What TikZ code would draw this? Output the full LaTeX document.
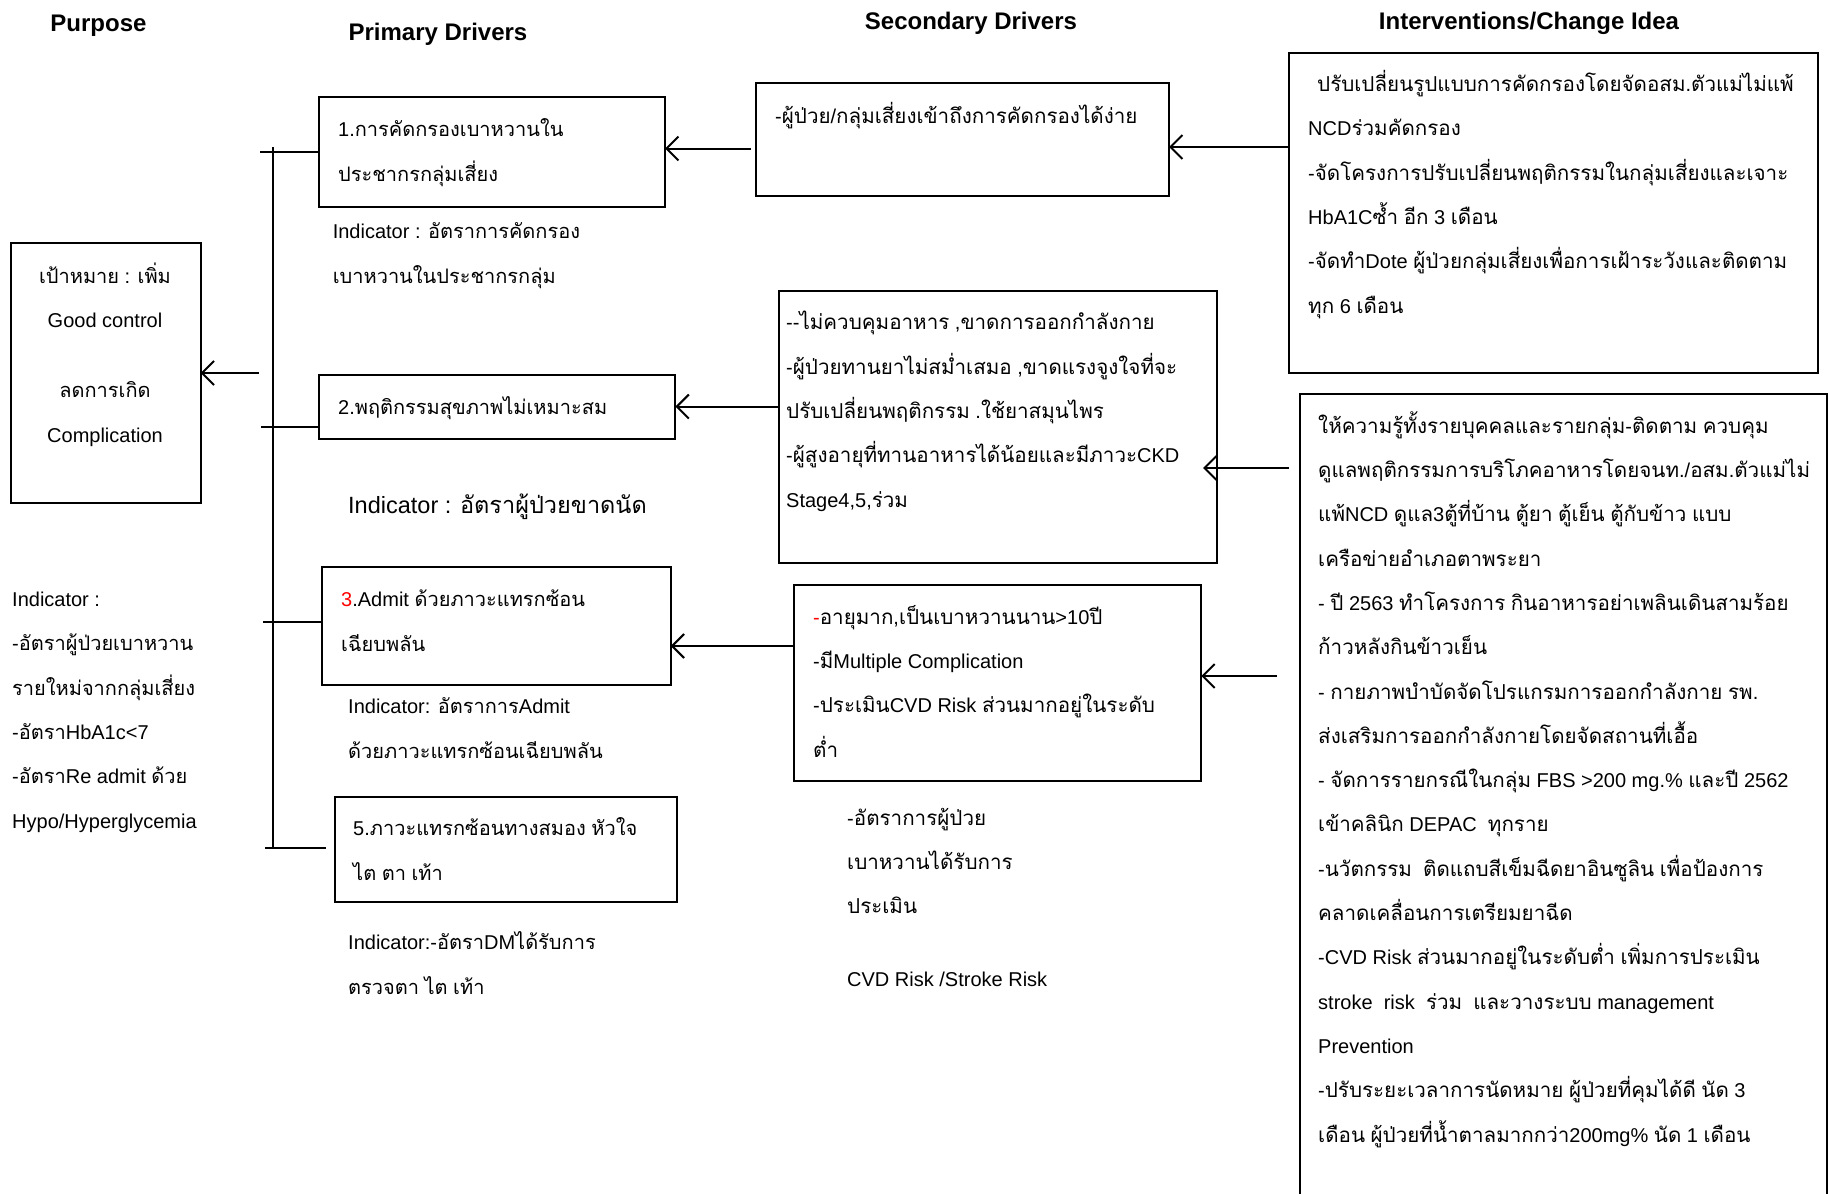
\documentclass[tikz,border=0pt]{standalone}
\usepackage{fontspec}
\usetikzlibrary{arrows.meta}
\setmainfont{Liberation Sans}
\newfontfamily\thaiA[Script=Thai,Scale=1.03]{Loma}
\newfontfamily\thaiB[Script=Thai,Scale=1.0]{Loma}
\newcommand\thaisw{\thaiA}
\newcommand\latsw{\normalfont}
\XeTeXinterchartokenstate=1
\newXeTeXintercharclass\thaicls
\newcount\tcnt
\tcnt="0E01
\loop
\XeTeXcharclass\tcnt=\thaicls
\advance\tcnt by 1
\ifnum\tcnt<"0E7F \repeat
\XeTeXinterchartoks 0 \thaicls={\thaisw}
\XeTeXinterchartoks 4095 \thaicls={\thaisw}
\XeTeXinterchartoks \thaicls 0={\latsw}
\XeTeXinterchartoks \thaicls 4095={\latsw}
\begin{document}
\begin{tikzpicture}[x=1pt,y=-1pt,
  box/.style={draw,line width=2pt,anchor=north west,inner sep=0,outer sep=0},
  ln/.style={line width=2pt},
  arr/.style={line width=2pt,-{Straight Barb[length=12pt,width=24pt]}},
  hdr/.style={anchor=base,inner sep=0,font=\fontsize{24}{29}\selectfont\bfseries},
  tA/.style={anchor=base west,inner sep=0,align=left,font=\fontsize{20}{44.3}\selectfont},
  tB/.style={anchor=base west,inner sep=0,align=left,font=\fontsize{20}{44.3}\selectfont\let\thaisw\thaiB},
  tC/.style={anchor=base,inner sep=0,align=center,font=\fontsize{20}{44.3}\selectfont\let\thaisw\thaiB}]
\useasboundingbox (0,0) rectangle (1829,1194);
\fill[white] (0,0) rectangle (1829,1194);
% headers
\node[hdr] (hP) at (98.5,31) {Purpose};
\node[hdr] (hPD) at (438,40) {Primary Drivers};
\node[hdr] (hSD) at (971,29) {Secondary Drivers};
\node[hdr] (hI) at (1529,29) {Interventions/Change Idea};
% boxes
\node[box,minimum width=190.1pt,minimum height=260.2pt] (P) at (10.5,242.6) {};
\node[box,minimum width=346.5pt,minimum height=109.8pt] (b1) at (318.5,96.8) {};
\node[box,minimum width=356.9pt,minimum height=64.1pt] (b2) at (318.5,374.5) {};
\node[box,minimum width=348.7pt,minimum height=117.8pt] (b3) at (322,567) {};
\node[box,minimum width=342.5pt,minimum height=105.2pt] (b5) at (334.5,796.5) {};
\node[box,minimum width=413.5pt,minimum height=112.7pt] (sA) at (755.5,82.8) {};
\node[box,minimum width=438pt,minimum height=272.9pt] (sB) at (779,290.5) {};
\node[box,minimum width=406.9pt,minimum height=195.5pt] (sC) at (794.4,585.3) {};
\node[box,minimum width=529pt,minimum height=319.5pt] (i1) at (1289,53) {};
\node[box,minimum width=527pt,minimum height=850pt] (i2) at (1300,394) {};
% texts (base = baseline of the last line)
\node[tC] (tP) at (105,442) {เป้าหมาย : เพิ่ม\\Good control\\[26pt]ลดการเกิด\\Complication};
\node[tB] (t1) at (338,181) {1.การคัดกรองเบาหวานใน\\ประชากรกลุ่มเสี่ยง};
\node[tB] (n1) at (332.6,283) {Indicator : อัตราการคัดกรอง\\เบาหวานในประชากรกลุ่ม};
\node[tB] (t2) at (338,414) {2.พฤติกรรมสุขภาพไม่เหมาะสม};
\node[tB,font=\fontsize{23.5}{44.3}\selectfont\let\thaisw\thaiB] (n2) at (348,513) {Indicator : อัตราผู้ป่วยขาดนัด};
\node[tB] (t3) at (341,651) {\textcolor{red}{3}.Admit ด้วยภาวะแทรกซ้อน\\เฉียบพลัน};
\node[tB] (n3) at (348,758) {Indicator: อัตราการAdmit\\ด้วยภาวะแทรกซ้อนเฉียบพลัน};
\node[tB] (t5) at (353,880) {5.ภาวะแทรกซ้อนทางสมอง หัวใจ\\ไต ตา เท้า};
\node[tB] (n5) at (348,994) {Indicator:-อัตราDMได้รับการ\\ตรวจตา ไต เท้า};
\node[tB] (nL) at (12,828) {Indicator :\\-อัตราผู้ป่วยเบาหวาน\\รายใหม่จากกลุ่มเสี่ยง\\-อัตราHbA1c<7\\-อัตราRe admit ด้วย\\Hypo/Hyperglycemia};
\node[tA] (tA1) at (775,123) {-ผู้ป่วย/กลุ่มเสี่ยงเข้าถึงการคัดกรองได้ง่าย};
\node[tA] (tB1) at (786,507) {-{}-ไม่ควบคุมอาหาร ,ขาดการออกกำลังกาย\\-ผู้ป่วยทานยาไม่สม่ำเสมอ ,ขาดแรงจูงใจที่จะ\\ปรับเปลี่ยนพฤติกรรม .ใช้ยาสมุนไพร\\-ผู้สูงอายุที่ทานอาหารได้น้อยและมีภาวะCKD\\Stage4,5,ร่วม};
\node[tA] (tC1) at (813,757) {\textcolor{red}{-}อายุมาก,เป็นเบาหวานนาน>10ปี\\-มีMultiple Complication\\-ประเมินCVD Risk ส่วนมากอยู่ในระดับ\\ต่ำ};
\node[tA] (nC) at (847,986) {-อัตราการผู้ป่วย\\เบาหวานได้รับการ\\ประเมิน\\[28pt]CVD Risk /Stroke Risk};
\node[tA] (tI1) at (1308,313) {\hspace*{9pt}ปรับเปลี่ยนรูปแบบการคัดกรองโดยจัดอสม.ตัวแม่ไม่แพ้\\NCDร่วมคัดกรอง\\-จัดโครงการปรับเปลี่ยนพฤติกรรมในกลุ่มเสี่ยงและเจาะ\\HbA1Cซ้ำ อีก 3 เดือน\\-จัดทำDote ผู้ป่วยกลุ่มเสี่ยงเพื่อการเฝ้าระวังและติดตาม\\ทุก 6 เดือน};
\node[tA] (tI2) at (1318,1142) {ให้ความรู้ทั้งรายบุคคลและรายกลุ่ม-ติดตาม ควบคุม\\ดูแลพฤติกรรมการบริโภคอาหารโดยจนท./อสม.ตัวแม่ไม่\\แพ้NCD ดูแล3ตู้ที่บ้าน ตู้ยา ตู้เย็น ตู้กับข้าว แบบ\\เครือข่ายอำเภอตาพระยา\\- ปี 2563 ทำโครงการ กินอาหารอย่าเพลินเดินสามร้อย\\ก้าวหลังกินข้าวเย็น\\- กายภาพบำบัดจัดโปรแกรมการออกกำลังกาย รพ.\\ส่งเสริมการออกกำลังกายโดยจัดสถานที่เอื้อ\\- จัดการรายกรณีในกลุ่ม FBS >200 mg.\% และปี 2562\\เข้าคลินิก DEPAC \ ทุกราย\\-นวัตกรรม \ ติดแถบสีเข็มฉีดยาอินซูลิน เพื่อป้องการ\\คลาดเคลื่อนการเตรียมยาฉีด\\-CVD Risk ส่วนมากอยู่ในระดับต่ำ เพิ่มการประเมิน\\stroke \ risk \ ร่วม \ และวางระบบ management\\Prevention\\-ปรับระยะเวลาการนัดหมาย ผู้ป่วยที่คุมได้ดี นัด 3\\เดือน ผู้ป่วยที่น้ำตาลมากกว่า200mg\% นัด 1 เดือน};
% bus
\coordinate (busT) at (272.5,147);
\coordinate (busB) at (272.5,849.3);
\draw[ln] (busT) -- (busB);
\coordinate (s1) at (260,151.7);
\coordinate (s2) at (261,426.7);
\coordinate (s3) at (263,621.7);
\coordinate (s5) at (265,848.3);
\coordinate (e5) at (326,848.3);
\coordinate (sp) at (259,373);
\draw[ln] (s1) -- (s1 -| b1.west);
\draw[ln] (s2) -- (s2 -| b2.west);
\draw[ln] (s3) -- (s3 -| b3.west);
\draw[ln] (s5) -- (e5);
\draw[arr] (sp) -- (sp -| P.east);
% arrows
\coordinate (aA) at (751,148.5);
\draw[arr] (aA) -- (aA -| b1.east);
\coordinate (aI1) at (1289,147);
\draw[arr] (aI1) -- (aI1 -| sA.east);
\draw[arr] (sB.west |- b2.east) -- (b2.east);
\coordinate (aI2) at (1289,468);
\coordinate (tipB) at (1203,468);
\draw[arr] (aI2) -- (tipB);
\coordinate (aC) at (794.4,646);
\draw[arr] (aC) -- (aC -| b3.east);
\coordinate (aI3) at (1277,676);
\draw[arr] (aI3) -- (aI3 -| sC.east);
\end{tikzpicture}
\end{document}
